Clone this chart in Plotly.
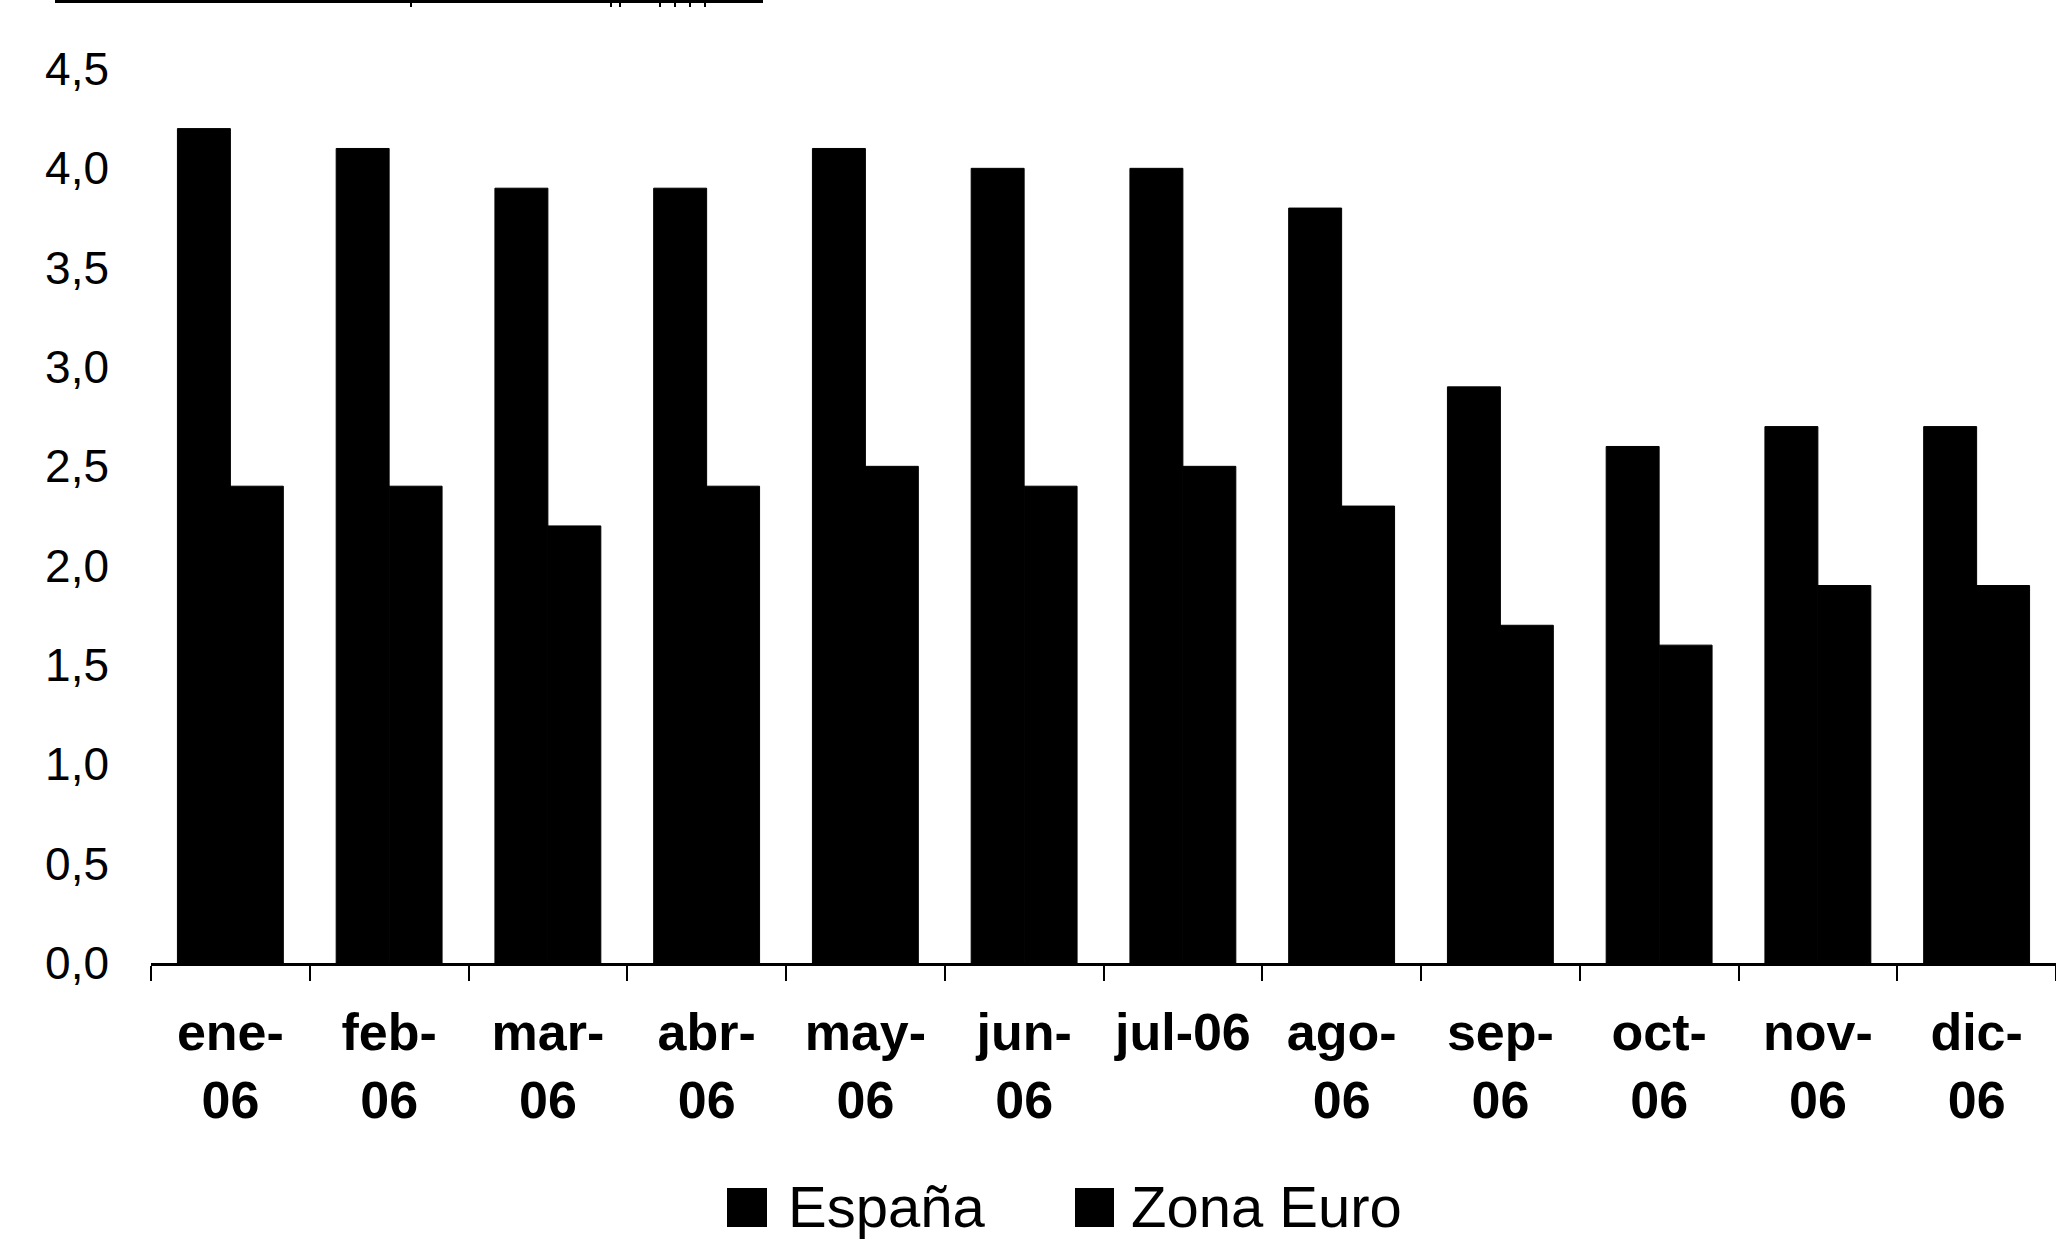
import plotly.graph_objects as go

# Monthly inflation, 2006: Spain vs. euro area (%)
months = ["ene-<br>06", "feb-<br>06", "mar-<br>06", "abr-<br>06", "may-<br>06",
          "jun-<br>06", "jul-06", "ago-<br>06", "sep-<br>06", "oct-<br>06",
          "nov-<br>06", "dic-<br>06"]
espana = [4.2, 4.1, 3.9, 3.9, 4.1, 4.0, 4.0, 3.8, 2.9, 2.6, 2.7, 2.7]
zona_euro = [2.4, 2.4, 2.2, 2.4, 2.5, 2.4, 2.5, 2.3, 1.7, 1.6, 1.9, 1.9]
series_names = ["España", "Zona Euro"]

W, H = 2056, 1244
ML, MR, MT, MB = 151, 0, 69, 281
FONT = "Arial, 'Liberation Sans', sans-serif"


def px_x(px):
    return (px - ML) / (W - ML - MR)


def px_y(py):
    return (H - MB - py) / (H - MT - MB)


fig = go.Figure()
for name, vals in zip(series_names, [espana, zona_euro]):
    fig.add_trace(go.Bar(x=months, y=vals, name=name, marker_color="#000000",
                         marker_line=dict(color="#000000", width=1), showlegend=False))

# Legend drawn below the axis: square swatches + labels
shapes = []
annotations = []
legend_items = [(series_names[0], 727, 767, 786), (series_names[1], 1075, 1114, 1129)]
for name, sx0, sx1, tx in legend_items:
    shapes.append(dict(type="rect", xref="paper", yref="paper",
                       x0=px_x(sx0), x1=px_x(sx1), y0=px_y(1227), y1=px_y(1188),
                       fillcolor="#000000", line_width=0))
    annotations.append(dict(text=name, xref="paper", yref="paper",
                            x=px_x(tx), y=px_y(1206), xanchor="left", yanchor="middle",
                            showarrow=False, font=dict(family=FONT, size=58, color="#000000")))

# Rule across the top edge of the page
shapes.append(dict(type="line", xref="paper", yref="paper",
                   x0=px_x(55), x1=px_x(763), y0=px_y(1.5), y1=px_y(1.5),
                   line=dict(color="#000000", width=3)))
for tx in [411, 611, 620, 660, 675, 690, 705]:
    shapes.append(dict(type="line", xref="paper", yref="paper",
                       x0=px_x(tx), x1=px_x(tx), y0=px_y(0), y1=px_y(7),
                       line=dict(color="#000000", width=2)))

fig.update_layout(
    width=W, height=H,
    margin=dict(l=ML, r=MR, t=MT, b=MB, pad=0),
    paper_bgcolor="#ffffff", plot_bgcolor="#ffffff",
    separators=",.",
    barmode="group", bargap=0.333, bargroupgap=0,
    showlegend=False,
    shapes=shapes, annotations=annotations,
    font=dict(family=FONT, color="#000000"),
)
fig.update_xaxes(
    type="category", showline=True, linecolor="#000000", linewidth=3,
    ticks="outside", tickson="boundaries", ticklen=15, tickwidth=2, tickcolor="#000000",
    tickfont=dict(family=FONT, size=52, color="#000000", weight="bold"),
    ticklabelstandoff=22, showgrid=False, zeroline=False, tickangle=0,
)
fig.update_yaxes(
    range=[0, 4.5], dtick=0.5, tick0=0, tickformat=".1f",
    showline=False, showgrid=False, zeroline=False, ticks="",
    tickfont=dict(family=FONT, size=46, color="#000000"),
    ticklabelstandoff=41,
)

fig.write_html("out.html")
